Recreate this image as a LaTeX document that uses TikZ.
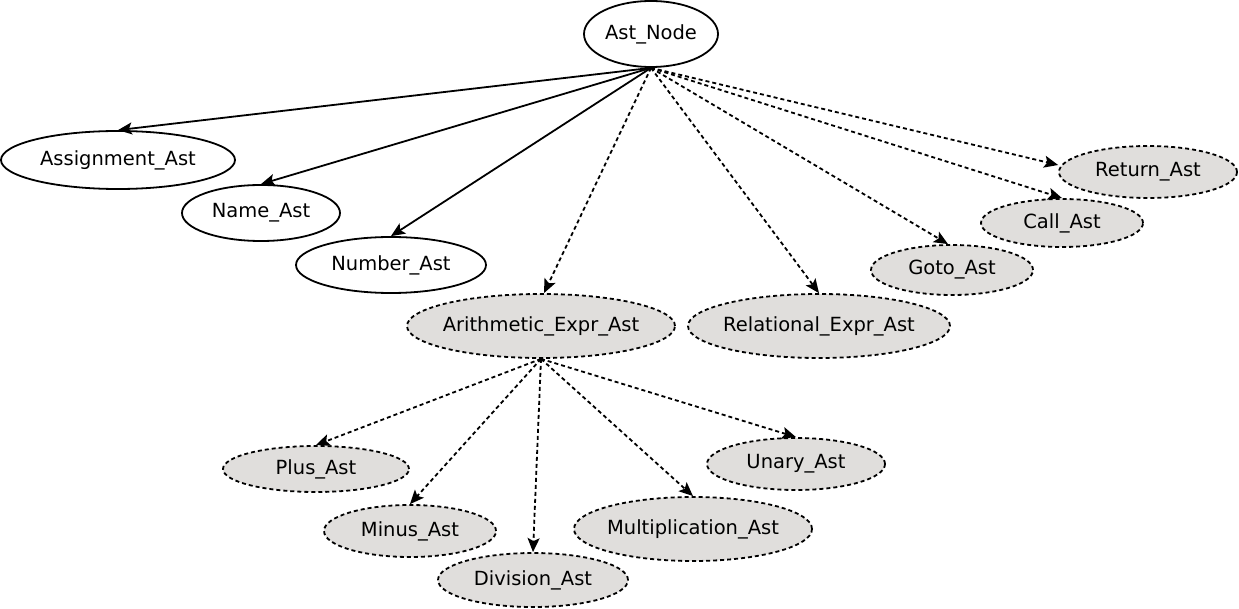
\documentclass[tikz,border=0pt]{standalone}
\usepackage{fontspec}
\setmainfont{DejaVu Sans}
\usetikzlibrary{shapes.geometric,arrows.meta}
\definecolor{nodegray}{RGB}{224,222,220}
\begin{document}
\begin{tikzpicture}[x=1pt,y=-1pt,
  base/.style={ellipse,draw=black,line width=1.8pt,inner xsep=-8pt,inner ysep=0pt,font=\fontsize{19.5}{23}\selectfont},
  solidnode/.style={base,fill=white},
  dashnode/.style={base,fill=nodegray,dash pattern=on 4pt off 3pt},
  solidedge/.style={line width=1.8pt,-{Stealth[length=14pt,width=12pt,inset=3pt]}},
  dashedge/.style={line width=1.8pt,dash pattern=on 4pt off 3pt,-{Stealth[length=14pt,width=12pt,inset=3pt]}}]
\useasboundingbox (0,0) rectangle (1239,609);
\node[solidnode,minimum width=134pt,minimum height=66pt] (root) at (651,34) {Ast\_Node};
\node[solidnode,minimum width=234pt,minimum height=58pt] (assign) at (118,160) {Assignment\_Ast};
\node[solidnode,minimum width=158pt,minimum height=56pt] (name) at (261,213) {Name\_Ast};
\node[solidnode,minimum width=190pt,minimum height=56pt] (number) at (391,265) {Number\_Ast};
\node[dashnode,minimum width=268pt,minimum height=64pt] (arith) at (541,326) {Arithmetic\_Expr\_Ast};
\node[dashnode,minimum width=262pt,minimum height=64pt] (rel) at (819,326) {Relational\_Expr\_Ast};
\node[dashnode,minimum width=162pt,minimum height=50pt] (goto) at (952,270) {Goto\_Ast};
\node[dashnode,minimum width=162pt,minimum height=48pt] (call) at (1062,223) {Call\_Ast};
\node[dashnode,minimum width=178pt,minimum height=52pt] (ret) at (1148,172) {Return\_Ast};
\node[dashnode,minimum width=186pt,minimum height=46pt] (plus) at (316,469) {Plus\_Ast};
\node[dashnode,minimum width=172pt,minimum height=52pt] (minus) at (410,531) {Minus\_Ast};
\node[dashnode,minimum width=190pt,minimum height=54pt] (div) at (533,580) {Division\_Ast};
\node[dashnode,minimum width=238pt,minimum height=64pt] (mult) at (693,529) {Multiplication\_Ast};
\node[dashnode,minimum width=178pt,minimum height=52pt] (unary) at (796,464) {Unary\_Ast};
\draw[solidedge] (root.south) -- (assign.north);
\draw[solidedge] (root.south) -- (name.north);
\draw[solidedge] (root.south) -- (number.north);
\draw[dashedge] (root.south) -- ([xshift=3pt]arith.north);
\draw[dashedge] (root.south) -- (rel.north);
\draw[dashedge] (root.south) -- ([xshift=-4pt]goto.north);
\draw[dashedge] (root.south) -- (call.north);
\draw[dashedge] (root.south) -- ([yshift=7pt]ret.west);
\draw[dashedge] (arith.south) -- (plus.north);
\draw[dashedge] (arith.south) -- (minus.north);
\draw[dashedge] (arith.south) -- (div.north);
\draw[dashedge] (arith.south) -- (mult.north);
\draw[dashedge] (arith.south) -- (unary.north);
\end{tikzpicture}
\end{document}
